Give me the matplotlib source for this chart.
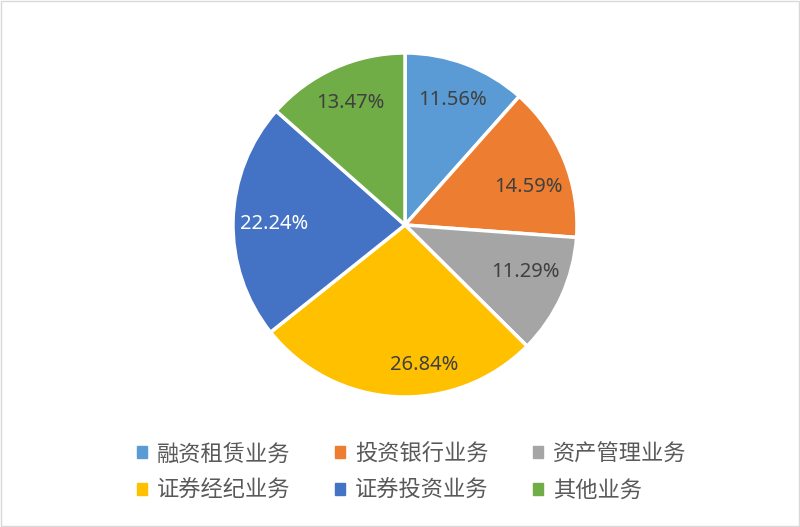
import matplotlib.pyplot as plt
from matplotlib.patches import Rectangle
import numpy as np

plt.rcParams['font.family'] = ['Noto Sans CJK SC', 'DejaVu Sans']

categories = ['融资租赁业务', '投资银行业务', '资产管理业务', '证券经纪业务', '证券投资业务', '其他业务']
shares = [11.56, 14.59, 11.29, 26.84, 22.24, 13.47]
colors = ['#5B9BD5', '#ED7D31', '#A5A5A5', '#FFC000', '#4472C4', '#70AD47']
label_colors = ['#404040', '#404040', '#404040', '#404040', 'white', '#404040']
# small nudges so labels sit where the original (Excel "best fit") put them
label_shift = [0, -5, 3, 11, 1, 0]
label_r = [0.78, 0.75, 0.75, 0.82, 0.76, 0.78]

fig = plt.figure(figsize=(8, 5.27), dpi=100)
ax = fig.add_axes([0.29125, 0.2467, 0.43, 0.6528])

wedges, _ = ax.pie(shares, colors=colors, startangle=90, counterclock=False,
                   wedgeprops=dict(edgecolor='white', linewidth=2.5))
ax.set_xlim(-1, 1)
ax.set_ylim(-1, 1)
ax.set_aspect('equal')

for w, v, c, s, r in zip(wedges, shares, label_colors, label_shift, label_r):
    ang = np.deg2rad((w.theta1 + w.theta2) / 2 + s)
    ax.text(r * np.cos(ang), r * np.sin(ang), '%.2f%%' % v,
            ha='center', va='center', fontsize=14.5, color=c,
            family=['Noto Sans', 'DejaVu Sans'])

# legend: reorder so items run row-wise across 3 columns
order = [0, 3, 1, 4, 2, 5]
handles = [plt.Rectangle((0, 0), 1, 1, color=colors[i]) for i in order]
labels = [categories[i] for i in order]
fig.legend(handles, labels, ncol=3, loc='center', bbox_to_anchor=(0.515, 0.104),
           frameon=False, fontsize=16, labelcolor='#595959',
           handlelength=0.45, handleheight=0.45, handletextpad=0.45,
           columnspacing=2.0, labelspacing=0.62)

fig.patches.append(Rectangle((0.001, 0.001), 0.998, 0.997, transform=fig.transFigure,
                             fill=False, edgecolor='#D9D9D9', linewidth=1))

fig.savefig('out.png', dpi=100)
